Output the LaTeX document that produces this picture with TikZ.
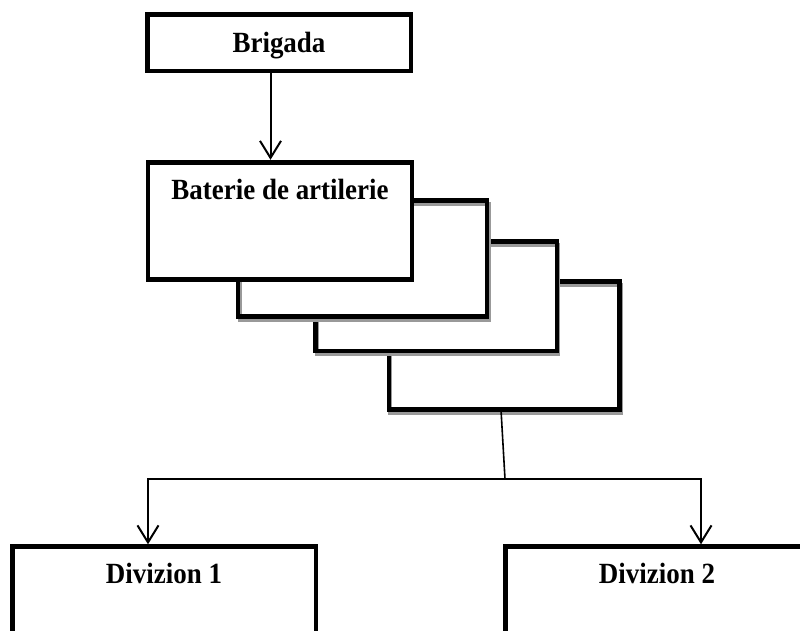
\documentclass[tikz,border=0pt]{standalone}
\usepackage{fontspec}
\setmainfont{Liberation Serif}[FakeStretch=0.92]
\usetikzlibrary{arrows.meta}

\tikzset{
	unit/.style={rectangle,inner sep=0pt,fill=white,postaction={draw,line width=4.5pt}},
	shadowed/.style={rectangle,inner sep=0pt,fill=white,
		postaction={draw=black!40,line width=4pt,transform canvas={shift={(1.5pt,-3.5pt)}}},
		postaction={draw,line width=4.5pt}},
	title/.style={label={[anchor=base,yshift=-37.5pt,font=\fontsize{29.3pt}{31pt}\selectfont\bfseries]north:#1}},
	arr/.style={line width=2pt,-{Straight Barb[length=17pt,width=21pt]}},
	link/.style={line width=1.6pt},
}

\begin{document}
\begin{tikzpicture}[x=1pt,y=-1pt]
	\useasboundingbox[fill=white] (0,0) rectangle (800,631);
	% stacked batteries, back to front
	\node[shadowed,minimum width=230.5pt,minimum height=128pt] (b4) at (504,345.5) {};
	\node[shadowed,minimum width=241.5pt,minimum height=109.5pt] (b3) at (436,296) {};
	\node[shadowed,minimum width=249pt,minimum height=116pt] (b2) at (362.5,258.5) {};
	\node[unit,minimum width=264pt,minimum height=117pt,title=Baterie de artilerie] (bat) at (280,221) {};
	\node[unit,minimum width=263.5pt,minimum height=56.5pt,title=Brigada] (brig) at (279,43) {};
	\node[unit,minimum width=303.5pt,minimum height=200pt,title=Divizion 1] (div1) at (164,646.5) {};
	\node[unit,minimum width=303pt,minimum height=200pt,title=Divizion 2] (div2) at (657,646.5) {};
	\coordinate (split) at (505,479);

	\draw[arr,shorten >=2.5pt] ([xshift=-8.5pt]brig.south) -- ([xshift=-9.5pt]bat.north);
	\draw[link] ([xshift=-3pt]b4.south) -- (split);
	\draw[arr,shorten >=2pt] (split) -| ([xshift=-16pt]div1.north);
	\draw[arr,shorten >=2pt] (split) -| ([xshift=44pt]div2.north);
\end{tikzpicture}
\end{document}
